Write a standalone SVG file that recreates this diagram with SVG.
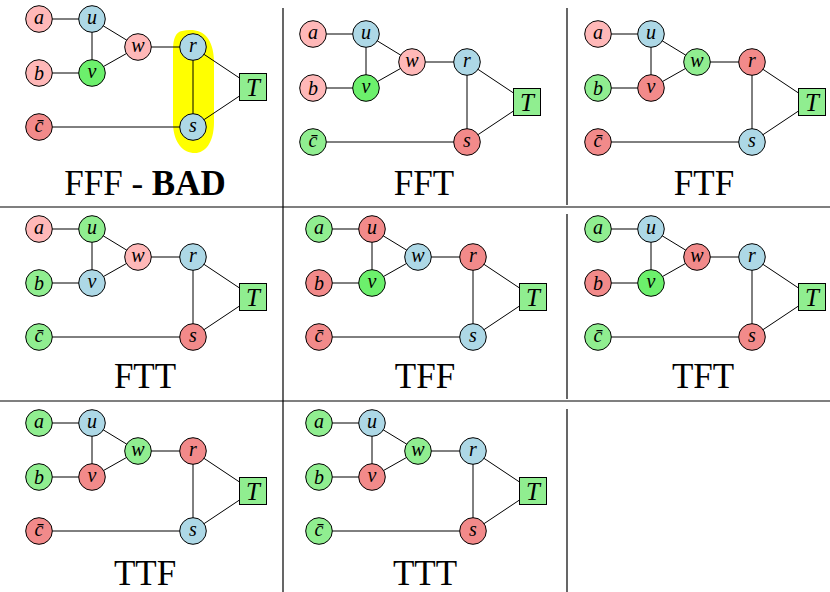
<svg xmlns="http://www.w3.org/2000/svg" xmlns:xlink="http://www.w3.org/1999/xlink" width="830" height="592" viewBox="0 0 830 592">
<style>
.n circle{stroke:#000;stroke-width:1}
.n rect{stroke:#000;stroke-width:1}
.n text{font-family:"Liberation Serif","Times New Roman",serif;font-style:italic;font-size:20px;text-anchor:middle;fill:#000}
.n text.big{font-size:25px}
.pk{fill:#FFB8B8}
.rd{fill:#F28A8A}
.bl{fill:#ADD8E6}
.lg{fill:#90EE90}
.bg{fill:#6CF06C}
.e line{stroke:#000;stroke-width:1}
.grid line{stroke:#000;stroke-width:1.2}
.lbl{font-family:"Liberation Serif","Times New Roman",serif;font-size:35px;text-anchor:middle;fill:#000}
</style>
<defs>
<g id="edgeset" class="e">
<line x1="0" y1="0" x2="53" y2="0"/>
<line x1="0" y1="54" x2="53" y2="54"/>
<line x1="53" y1="0" x2="53" y2="54"/>
<line x1="53" y1="0" x2="99" y2="28"/>
<line x1="53" y1="54" x2="99" y2="28"/>
<line x1="99" y1="28" x2="154" y2="28"/>
<line x1="154" y1="28" x2="154" y2="108"/>
<line x1="154" y1="28" x2="214" y2="68"/>
<line x1="154" y1="108" x2="214" y2="68"/>
<line x1="0" y1="108" x2="154" y2="108"/>
</g>
</defs>
<g id="grid" class="grid">
<line x1="0" y1="207" x2="830" y2="207"/>
<line x1="0" y1="401" x2="830" y2="401"/>
<line x1="283" y1="8" x2="283" y2="592"/>
<line x1="567" y1="8" x2="567" y2="205"/>
<line x1="567" y1="214" x2="567" y2="399"/>
<line x1="567" y1="409" x2="567" y2="592"/>
</g>
<path id="highlight" d="M182,31 C201,27 213,36 214,60 L214,122 C214,143 205,153 195,153 C183,153 174,143 173,125 L173,50 C173,38 176,32 182,31 Z" fill="#FFFF00"/>
<g id="connectors">
<use xlink:href="#edgeset" x="39" y="19"/>
<use xlink:href="#edgeset" x="313" y="34"/>
<use xlink:href="#edgeset" x="598" y="34"/>
<use xlink:href="#edgeset" x="39" y="229"/>
<use xlink:href="#edgeset" x="319" y="229"/>
<use xlink:href="#edgeset" x="598" y="229"/>
<use xlink:href="#edgeset" x="39" y="423"/>
<use xlink:href="#edgeset" x="319" y="423"/>
</g>

<!-- Panel 1 FFF -->
<g id="p1" transform="translate(39,19)">
<g id="p1-a" class="n"><circle class="pk" cx="0" cy="0" r="13.3"/><text x="0" y="4.5">a</text></g>
<g id="p1-u" class="n"><circle class="bl" cx="53" cy="0" r="13.3"/><text x="53" y="4.5">u</text></g>
<g id="p1-w" class="n"><circle class="pk" cx="99" cy="28" r="13.3"/><text x="99" y="32.5">w</text></g>
<g id="p1-r" class="n"><circle class="bl" cx="154" cy="28" r="13.3"/><text x="154" y="32.5">r</text></g>
<g id="p1-b" class="n"><circle class="pk" cx="0" cy="54" r="13.3"/><text x="0" y="61">b</text></g>
<g id="p1-v" class="n"><circle class="bg" cx="53" cy="54" r="13.3"/><text x="53" y="58.5">v</text></g>
<g id="p1-T" class="n"><rect class="lg" x="200.5" y="54.5" width="27" height="27"/><text class="big" x="214" y="76.5">T</text></g>
<g id="p1-c" class="n"><circle class="rd" cx="0" cy="108" r="13.3"/><text x="0" y="113">c̄</text></g>
<g id="p1-s" class="n"><circle class="bl" cx="154" cy="108" r="13.3"/><text x="154" y="112.5">s</text></g>
</g>
<!-- Panel 2 FFT -->
<g id="p2" transform="translate(313,34)">
<g id="p2-a" class="n"><circle class="pk" cx="0" cy="0" r="13.3"/><text x="0" y="4.5">a</text></g>
<g id="p2-u" class="n"><circle class="bl" cx="53" cy="0" r="13.3"/><text x="53" y="4.5">u</text></g>
<g id="p2-w" class="n"><circle class="pk" cx="99" cy="28" r="13.3"/><text x="99" y="32.5">w</text></g>
<g id="p2-r" class="n"><circle class="bl" cx="154" cy="28" r="13.3"/><text x="154" y="32.5">r</text></g>
<g id="p2-b" class="n"><circle class="pk" cx="0" cy="54" r="13.3"/><text x="0" y="61">b</text></g>
<g id="p2-v" class="n"><circle class="bg" cx="53" cy="54" r="13.3"/><text x="53" y="58.5">v</text></g>
<g id="p2-T" class="n"><rect class="lg" x="200.5" y="54.5" width="27" height="27"/><text class="big" x="214" y="76.5">T</text></g>
<g id="p2-c" class="n"><circle class="lg" cx="0" cy="108" r="13.3"/><text x="0" y="113">c̄</text></g>
<g id="p2-s" class="n"><circle class="rd" cx="154" cy="108" r="13.3"/><text x="154" y="112.5">s</text></g>
</g>
<!-- Panel 3 FTF -->
<g id="p3" transform="translate(598,34)">
<g id="p3-a" class="n"><circle class="pk" cx="0" cy="0" r="13.3"/><text x="0" y="4.5">a</text></g>
<g id="p3-u" class="n"><circle class="bl" cx="53" cy="0" r="13.3"/><text x="53" y="4.5">u</text></g>
<g id="p3-w" class="n"><circle class="lg" cx="99" cy="28" r="13.3"/><text x="99" y="32.5">w</text></g>
<g id="p3-r" class="n"><circle class="rd" cx="154" cy="28" r="13.3"/><text x="154" y="32.5">r</text></g>
<g id="p3-b" class="n"><circle class="lg" cx="0" cy="54" r="13.3"/><text x="0" y="61">b</text></g>
<g id="p3-v" class="n"><circle class="rd" cx="53" cy="54" r="13.3"/><text x="53" y="58.5">v</text></g>
<g id="p3-T" class="n"><rect class="lg" x="200.5" y="54.5" width="27" height="27"/><text class="big" x="214" y="76.5">T</text></g>
<g id="p3-c" class="n"><circle class="rd" cx="0" cy="108" r="13.3"/><text x="0" y="113">c̄</text></g>
<g id="p3-s" class="n"><circle class="bl" cx="154" cy="108" r="13.3"/><text x="154" y="112.5">s</text></g>
</g>
<!-- Panel 4 FTT -->
<g id="p4" transform="translate(39,229)">
<g id="p4-a" class="n"><circle class="pk" cx="0" cy="0" r="13.3"/><text x="0" y="4.5">a</text></g>
<g id="p4-u" class="n"><circle class="lg" cx="53" cy="0" r="13.3"/><text x="53" y="4.5">u</text></g>
<g id="p4-w" class="n"><circle class="pk" cx="99" cy="28" r="13.3"/><text x="99" y="32.5">w</text></g>
<g id="p4-r" class="n"><circle class="bl" cx="154" cy="28" r="13.3"/><text x="154" y="32.5">r</text></g>
<g id="p4-b" class="n"><circle class="lg" cx="0" cy="54" r="13.3"/><text x="0" y="61">b</text></g>
<g id="p4-v" class="n"><circle class="bl" cx="53" cy="54" r="13.3"/><text x="53" y="58.5">v</text></g>
<g id="p4-T" class="n"><rect class="lg" x="200.5" y="54.5" width="27" height="27"/><text class="big" x="214" y="76.5">T</text></g>
<g id="p4-c" class="n"><circle class="lg" cx="0" cy="108" r="13.3"/><text x="0" y="113">c̄</text></g>
<g id="p4-s" class="n"><circle class="rd" cx="154" cy="108" r="13.3"/><text x="154" y="112.5">s</text></g>
</g>
<!-- Panel 5 TFF -->
<g id="p5" transform="translate(319,229)">
<g id="p5-a" class="n"><circle class="lg" cx="0" cy="0" r="13.3"/><text x="0" y="4.5">a</text></g>
<g id="p5-u" class="n"><circle class="rd" cx="53" cy="0" r="13.3"/><text x="53" y="4.5">u</text></g>
<g id="p5-w" class="n"><circle class="bl" cx="99" cy="28" r="13.3"/><text x="99" y="32.5">w</text></g>
<g id="p5-r" class="n"><circle class="rd" cx="154" cy="28" r="13.3"/><text x="154" y="32.5">r</text></g>
<g id="p5-b" class="n"><circle class="rd" cx="0" cy="54" r="13.3"/><text x="0" y="61">b</text></g>
<g id="p5-v" class="n"><circle class="bg" cx="53" cy="54" r="13.3"/><text x="53" y="58.5">v</text></g>
<g id="p5-T" class="n"><rect class="lg" x="200.5" y="54.5" width="27" height="27"/><text class="big" x="214" y="76.5">T</text></g>
<g id="p5-c" class="n"><circle class="rd" cx="0" cy="108" r="13.3"/><text x="0" y="113">c̄</text></g>
<g id="p5-s" class="n"><circle class="bl" cx="154" cy="108" r="13.3"/><text x="154" y="112.5">s</text></g>
</g>
<!-- Panel 6 TFT -->
<g id="p6" transform="translate(598,229)">
<g id="p6-a" class="n"><circle class="lg" cx="0" cy="0" r="13.3"/><text x="0" y="4.5">a</text></g>
<g id="p6-u" class="n"><circle class="bl" cx="53" cy="0" r="13.3"/><text x="53" y="4.5">u</text></g>
<g id="p6-w" class="n"><circle class="rd" cx="99" cy="28" r="13.3"/><text x="99" y="32.5">w</text></g>
<g id="p6-r" class="n"><circle class="bl" cx="154" cy="28" r="13.3"/><text x="154" y="32.5">r</text></g>
<g id="p6-b" class="n"><circle class="rd" cx="0" cy="54" r="13.3"/><text x="0" y="61">b</text></g>
<g id="p6-v" class="n"><circle class="bg" cx="53" cy="54" r="13.3"/><text x="53" y="58.5">v</text></g>
<g id="p6-T" class="n"><rect class="lg" x="200.5" y="54.5" width="27" height="27"/><text class="big" x="214" y="76.5">T</text></g>
<g id="p6-c" class="n"><circle class="lg" cx="0" cy="108" r="13.3"/><text x="0" y="113">c̄</text></g>
<g id="p6-s" class="n"><circle class="rd" cx="154" cy="108" r="13.3"/><text x="154" y="112.5">s</text></g>
</g>
<!-- Panel 7 TTF -->
<g id="p7" transform="translate(39,423)">
<g id="p7-a" class="n"><circle class="lg" cx="0" cy="0" r="13.3"/><text x="0" y="4.5">a</text></g>
<g id="p7-u" class="n"><circle class="bl" cx="53" cy="0" r="13.3"/><text x="53" y="4.5">u</text></g>
<g id="p7-w" class="n"><circle class="lg" cx="99" cy="28" r="13.3"/><text x="99" y="32.5">w</text></g>
<g id="p7-r" class="n"><circle class="rd" cx="154" cy="28" r="13.3"/><text x="154" y="32.5">r</text></g>
<g id="p7-b" class="n"><circle class="lg" cx="0" cy="54" r="13.3"/><text x="0" y="61">b</text></g>
<g id="p7-v" class="n"><circle class="rd" cx="53" cy="54" r="13.3"/><text x="53" y="58.5">v</text></g>
<g id="p7-T" class="n"><rect class="lg" x="200.5" y="54.5" width="27" height="27"/><text class="big" x="214" y="76.5">T</text></g>
<g id="p7-c" class="n"><circle class="rd" cx="0" cy="108" r="13.3"/><text x="0" y="113">c̄</text></g>
<g id="p7-s" class="n"><circle class="bl" cx="154" cy="108" r="13.3"/><text x="154" y="112.5">s</text></g>
</g>
<!-- Panel 8 TTT -->
<g id="p8" transform="translate(319,423)">
<g id="p8-a" class="n"><circle class="lg" cx="0" cy="0" r="13.3"/><text x="0" y="4.5">a</text></g>
<g id="p8-u" class="n"><circle class="bl" cx="53" cy="0" r="13.3"/><text x="53" y="4.5">u</text></g>
<g id="p8-w" class="n"><circle class="lg" cx="99" cy="28" r="13.3"/><text x="99" y="32.5">w</text></g>
<g id="p8-r" class="n"><circle class="bl" cx="154" cy="28" r="13.3"/><text x="154" y="32.5">r</text></g>
<g id="p8-b" class="n"><circle class="lg" cx="0" cy="54" r="13.3"/><text x="0" y="61">b</text></g>
<g id="p8-v" class="n"><circle class="rd" cx="53" cy="54" r="13.3"/><text x="53" y="58.5">v</text></g>
<g id="p8-T" class="n"><rect class="lg" x="200.5" y="54.5" width="27" height="27"/><text class="big" x="214" y="76.5">T</text></g>
<g id="p8-c" class="n"><circle class="lg" cx="0" cy="108" r="13.3"/><text x="0" y="113">c̄</text></g>
<g id="p8-s" class="n"><circle class="rd" cx="154" cy="108" r="13.3"/><text x="154" y="112.5">s</text></g>
</g>

<g id="labels">
<text class="lbl" x="145" y="195">FFF - <tspan font-weight="bold">BAD</tspan></text>
<text class="lbl" x="424" y="195">FFT</text>
<text class="lbl" x="704" y="195">FTF</text>
<text class="lbl" x="145" y="388">FTT</text>
<text class="lbl" x="425" y="388">TFF</text>
<text class="lbl" x="703" y="388">TFT</text>
<text class="lbl" x="145" y="585">TTF</text>
<text class="lbl" x="425" y="585">TTT</text>
</g>
</svg>
